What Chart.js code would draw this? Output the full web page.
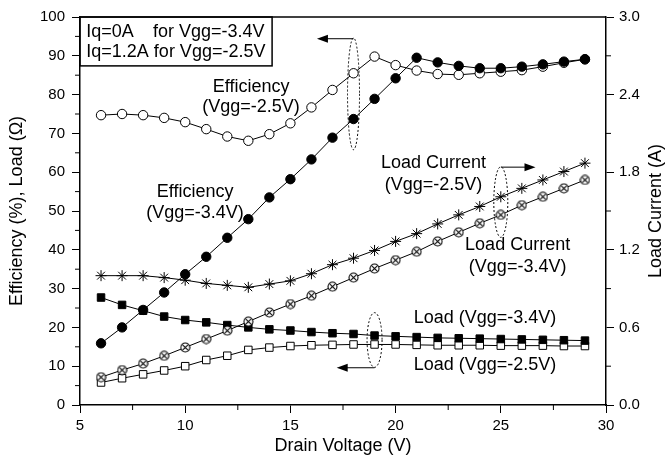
<!DOCTYPE html>
<html>
<head>
<meta charset="utf-8">
<script src="https://cdn.jsdelivr.net/npm/chart.js@4/dist/chart.umd.min.js"></script>
<style>
  html, body { margin: 0; padding: 0; background: #fff; }
  #wrap { width: 671px; height: 460px; }
</style>
</head>
<body>
<div id="wrap"><canvas id="effChart" width="671" height="460"></canvas></div>
<script>
// drain voltage (V)
const voltage = [6, 7, 8, 9, 10, 11, 12, 13, 14, 15, 16, 17, 18, 19, 20, 21, 22, 23, 24, 25, 26, 27, 28, 29];

// efficiency (%)
const effVgg34 = [15.9, 20.0, 24.5, 29.0, 33.7, 38.2, 43.1, 47.9, 53.5, 58.2, 63.3, 68.9, 73.7, 78.9, 84.2, 89.5, 88.3, 87.4, 86.8, 86.8, 87.2, 87.8, 88.5, 89.1];
const effVgg25 = [74.7, 75.0, 74.7, 74.0, 72.9, 71.1, 69.2, 68.1, 69.8, 72.6, 76.7, 81.2, 85.5, 89.8, 87.6, 86.2, 85.3, 85.1, 85.5, 85.9, 86.3, 87.2, 88.2, 89.1];

// load (ohm)
const loadVgg34 = [27.7, 25.8, 24.3, 22.8, 21.9, 21.3, 20.6, 20.0, 19.5, 19.2, 18.8, 18.5, 18.3, 17.9, 17.7, 17.5, 17.3, 17.2, 17.1, 17.0, 16.9, 16.8, 16.7, 16.6];
const loadVgg25 = [5.8, 6.9, 7.9, 8.9, 10.0, 11.6, 12.7, 14.2, 14.8, 15.2, 15.4, 15.5, 15.6, 15.6, 15.6, 15.5, 15.4, 15.4, 15.4, 15.3, 15.3, 15.3, 15.2, 15.2];

// load current (A), right axis
const curVgg25 = [1.00, 1.00, 1.00, 0.985, 0.965, 0.94, 0.925, 0.91, 0.935, 0.96, 1.015, 1.085, 1.135, 1.195, 1.265, 1.325, 1.40, 1.47, 1.535, 1.61, 1.675, 1.74, 1.805, 1.87];
const curVgg34 = [0.215, 0.27, 0.32, 0.38, 0.445, 0.51, 0.575, 0.645, 0.715, 0.78, 0.845, 0.915, 0.985, 1.055, 1.12, 1.185, 1.265, 1.335, 1.405, 1.47, 1.545, 1.61, 1.675, 1.74];

// minor tick positions
const xMinor = [7.5, 12.5, 17.5, 22.5, 27.5];
const yMinor = [5, 15, 25, 35, 45, 55, 65, 75, 85, 95];
const y1Minor = [0.3, 0.9, 1.5, 2.1, 2.7];

const FONT = "'Liberation Sans', Arial, sans-serif";

function pts(arr) {
    return voltage.map((v, i) => ({ x: v, y: arr[i] }));
}

// circle with an x inside, used as point style
function crossedCircle() {
    const c = document.createElement('canvas');
    c.width = 11; c.height = 11;
    const g = c.getContext('2d');
    g.fillStyle = '#fff';
    g.strokeStyle = '#000';
    g.lineWidth = 1.1;
    g.beginPath(); g.arc(5.5, 5.5, 4.5, 0, Math.PI * 2); g.fill(); g.stroke();
    g.beginPath();
    g.moveTo(2.3, 2.3); g.lineTo(8.7, 8.7);
    g.moveTo(8.7, 2.3); g.lineTo(2.3, 8.7);
    g.stroke();
    return c;
}

function arrow(ctx, x1, y, x2) {
    const dir = x2 > x1 ? 1 : -1;
    ctx.beginPath();
    ctx.moveTo(x1, y); ctx.lineTo(x2 - dir * 8, y);
    ctx.stroke();
    ctx.beginPath();
    ctx.moveTo(x2, y);
    ctx.lineTo(x2 - dir * 11, y - 4);
    ctx.lineTo(x2 - dir * 11, y + 4);
    ctx.closePath();
    ctx.fill();
}

function ellipse(ctx, cx, cy, rx, ry) {
    ctx.save();
    ctx.setLineDash([2, 2]);
    ctx.beginPath();
    ctx.ellipse(cx, cy, rx, ry, 0, 0, Math.PI * 2);
    ctx.stroke();
    ctx.restore();
}

const decorPlugin = {
    id: 'decor',
    afterDraw(chart) {
        const ctx = chart.ctx;
        const a = chart.chartArea;
        const sx = chart.scales.x, sy = chart.scales.y, sy1 = chart.scales.y1;
        const X = v => sx.getPixelForValue(v);
        const Y = v => sy.getPixelForValue(v);

        ctx.save();
        ctx.strokeStyle = '#000';
        ctx.fillStyle = '#000';

        // top frame line
        ctx.lineWidth = 1.5;
        ctx.beginPath();
        ctx.moveTo(a.left, a.top); ctx.lineTo(a.right, a.top);
        ctx.stroke();

        // minor ticks
        ctx.lineWidth = 1;
        ctx.beginPath();
        xMinor.forEach(v => { ctx.moveTo(X(v), a.bottom); ctx.lineTo(X(v), a.bottom + 5); });
        yMinor.forEach(v => { ctx.moveTo(a.left, Y(v)); ctx.lineTo(a.left - 5, Y(v)); });
        y1Minor.forEach(v => { const p = sy1.getPixelForValue(v); ctx.moveTo(a.right, p); ctx.lineTo(a.right + 5, p); });
        ctx.stroke();

        // right axis title, reading bottom to top like the left one
        ctx.save();
        ctx.translate(656, (a.top + a.bottom) / 2);
        ctx.rotate(-Math.PI / 2);
        ctx.font = '18px ' + FONT;
        ctx.textAlign = 'center';
        ctx.textBaseline = 'middle';
        ctx.fillText('Load Current (A)', 0, 0);
        ctx.restore();

        // condition box
        ctx.lineWidth = 1.5;
        ctx.strokeRect(a.left, a.top, X(14.13) - a.left, Y(87.4) - a.top);
        ctx.font = '18px ' + FONT;
        ctx.textAlign = 'left';
        ctx.textBaseline = 'middle';
        ctx.fillText('Iq=0A', X(5.3), Y(96.1));
        ctx.fillText('for Vgg=-3.4V', X(8.47), Y(96.1));
        ctx.fillText('Iq=1.2A for Vgg=-2.5V', X(5.3), Y(91.0));

        // curve labels
        ctx.textAlign = 'center';
        const label = (x, y, t) => ctx.fillText(t, X(x), Y(y));
        label(13.13, 82.0, 'Efficiency');
        label(13.13, 76.8, '(Vgg=-2.5V)');
        label(10.47, 54.9, 'Efficiency');
        label(10.47, 49.5, '(Vgg=-3.4V)');
        label(21.8, 62.4, 'Load Current');
        label(21.8, 56.7, '(Vgg=-2.5V)');
        label(25.8, 41.2, 'Load Current');
        label(25.8, 35.6, '(Vgg=-3.4V)');
        label(24.25, 22.4, 'Load (Vgg=-3.4V)');
        label(24.25, 10.3, 'Load (Vgg=-2.5V)');

        // dotted ellipses and axis arrows
        ctx.lineWidth = 1;
        ellipse(ctx, X(18), Y(80.2), 6, Y(80.2) - Y(94.6));
        arrow(ctx, X(18), Y(94.4), X(16.26));
        ellipse(ctx, X(25), Y(52.3), 7, Y(52.3) - Y(61.4));
        arrow(ctx, X(25), Y(61.3), X(26.65));
        ellipse(ctx, X(19), Y(16.75), 7.5, Y(16.75) - Y(23.8));
        arrow(ctx, X(19), Y(9.6), X(17.2));

        ctx.restore();
    }
};

const lineBase = { borderColor: '#000', borderWidth: 1, pointBorderColor: '#000', pointBorderWidth: 1, tension: 0 };

new Chart(document.getElementById('effChart'), {
    type: 'line',
    data: {
        datasets: [
            { ...lineBase, label: 'Load Current (Vgg=-2.5V)', data: pts(curVgg25), yAxisID: 'y1', pointStyle: 'star', pointRadius: 5.5, pointBackgroundColor: '#000' },
            { ...lineBase, label: 'Load Current (Vgg=-3.4V)', data: pts(curVgg34), yAxisID: 'y1', pointStyle: crossedCircle(), pointRadius: 5 },
            { ...lineBase, label: 'Load (Vgg=-3.4V)', data: pts(loadVgg34), yAxisID: 'y', pointStyle: 'rect', pointRadius: 5.3, pointBackgroundColor: '#000' },
            { ...lineBase, label: 'Load (Vgg=-2.5V)', data: pts(loadVgg25), yAxisID: 'y', pointStyle: 'rect', pointRadius: 5.3, pointBackgroundColor: '#fff' },
            { ...lineBase, label: 'Efficiency (Vgg=-3.4V)', data: pts(effVgg34), yAxisID: 'y', pointStyle: 'circle', pointRadius: 4.7, pointBackgroundColor: '#000' },
            { ...lineBase, label: 'Efficiency (Vgg=-2.5V)', data: pts(effVgg25), yAxisID: 'y', pointStyle: 'circle', pointRadius: 4.7, pointBackgroundColor: '#fff' }
        ]
    },
    options: {
        responsive: false,
        animation: false,
        devicePixelRatio: 1,
        layout: { padding: { top: 17, left: 0, right: 0, bottom: 0 } },
        plugins: { legend: { display: false }, tooltip: { enabled: false } },
        scales: {
            x: {
                type: 'linear', min: 5, max: 30,
                afterFit: s => { s.height = 55; },
                ticks: { stepSize: 5, color: '#000', padding: 4, font: { family: FONT, size: 15 } },
                grid: { drawOnChartArea: false, tickLength: 8, color: '#000', tickWidth: 1 },
                border: { color: '#000', width: 1.5 },
                title: { display: true, text: 'Drain Voltage (V)', color: '#000', padding: { top: 0, bottom: 3 }, font: { family: FONT, size: 18 } }
            },
            y: {
                position: 'left', min: 0, max: 100,
                afterFit: s => { s.width = 80; },
                ticks: { stepSize: 10, color: '#000', padding: 7, font: { family: FONT, size: 15 } },
                grid: { drawOnChartArea: false, tickLength: 8, color: '#000', tickWidth: 1 },
                border: { color: '#000', width: 1.5 },
                title: { display: true, text: 'Efficiency (%), Load (Ω)', color: '#000', padding: { top: 6, bottom: 0 }, font: { family: FONT, size: 18 } }
            },
            y1: {
                position: 'right', min: 0, max: 3,
                afterFit: s => { s.width = 65; },
                ticks: { stepSize: 0.6, color: '#000', padding: 5, font: { family: FONT, size: 15 }, callback: v => v.toFixed(1) },
                grid: { drawOnChartArea: false, tickLength: 8, color: '#000', tickWidth: 1 },
                border: { color: '#000', width: 1.5 },
                title: { display: false }
            }
        }
    },
    plugins: [decorPlugin]
});
</script>
</body>
</html>
